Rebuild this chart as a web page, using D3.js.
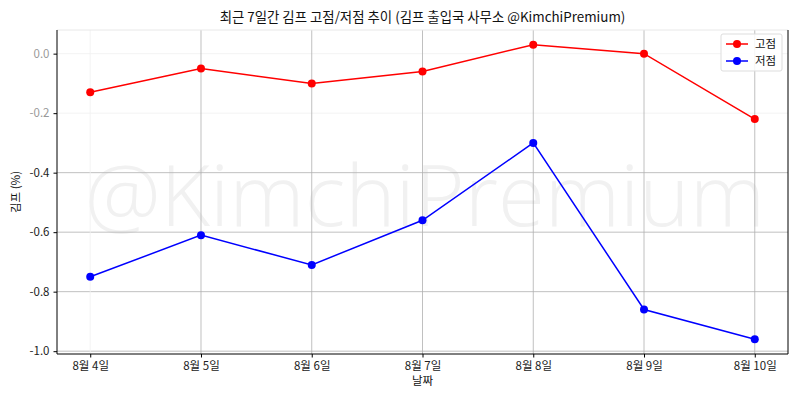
<!DOCTYPE html>
<html><head><meta charset="utf-8">
<script src="https://cdn.jsdelivr.net/npm/d3@7"></script>
<style>body{margin:0;background:#fff}svg{display:block}text{font-family:"Noto Sans CJK KR","Noto Sans",sans-serif}</style>
</head><body><svg id="c" width="800" height="400"></svg>
<script>
const dates = ["8월 4일","8월 5일","8월 6일","8월 7일","8월 8일","8월 9일","8월 10일"];
const highs = [-0.13,-0.05,-0.10,-0.06,0.03,0.00,-0.22];
const lows  = [-0.75,-0.61,-0.71,-0.56,-0.30,-0.86,-0.96];
const yTicks = [0.0,-0.2,-0.4,-0.6,-0.8,-1.0];
const seriesNames = ["고점","저점"];
const colors = ["#ff0000","#0000ff"];

const svg = d3.select("#c");
const L=57,R=788,T=30,B=354;
const x = d3.scaleLinear().domain([-0.3,6.3]).range([L,R]);
const y = d3.scaleLinear().domain([-1.0095,0.0795]).range([B,T]);

// watermark
svg.append("text").attr("x",425).attr("y",226).attr("text-anchor","middle")
  .attr("font-size",84).attr("font-weight",300).attr("fill","#f1f1f1")
  .attr("textLength",680).attr("lengthAdjust","spacingAndGlyphs")
  .style("font-family","'Open Sans','Noto Sans',sans-serif").text("@KimchiPremium");

// grid
const faintY = v => v>-0.3;
svg.append("g").selectAll("line").data(yTicks).join("line")
  .attr("x1",L).attr("x2",R).attr("y1",d=>y(d)).attr("y2",d=>y(d))
  .attr("stroke",d=>faintY(d)?"#f0f0f0":"#b0b0b0").attr("stroke-width",0.8);
svg.append("g").selectAll("line").data(dates).join("line")
  .attr("x1",(d,i)=>x(i)).attr("x2",(d,i)=>x(i)).attr("y1",T).attr("y2",B)
  .attr("stroke",(d,i)=>i===0?"#f0f0f0":"#b0b0b0").attr("stroke-width",0.8);

// axes
const xAxis = d3.axisBottom(x).tickValues(d3.range(dates.length)).tickFormat(i=>dates[i]).tickSize(3.5).tickPadding(4);
const gx = svg.append("g").attr("transform",`translate(0,${B})`).call(xAxis);
gx.select(".domain").remove();
gx.selectAll("text").attr("font-size",11.5).attr("fill","#222");
const yAxis = d3.axisLeft(y).tickValues(yTicks).tickFormat(d=>d3.format(".1f")(d).replace("−","-")).tickSize(3.5).tickPadding(4);
const gy = svg.append("g").attr("transform",`translate(${L},0)`).call(yAxis);
gy.select(".domain").remove();
gy.selectAll("text").attr("font-size",11.5).attr("fill",d=>faintY(d)?"#999":"#222");

// spines
svg.append("line").attr("x1",L).attr("x2",R).attr("y1",T).attr("y2",T).attr("stroke","#e8e8e8");
svg.append("line").attr("x1",L).attr("x2",L).attr("y1",T).attr("y2",B).attr("stroke","#000");
svg.append("line").attr("x1",R).attr("x2",R).attr("y1",T).attr("y2",B).attr("stroke","#000");
svg.append("line").attr("x1",L).attr("x2",R).attr("y1",B).attr("y2",B).attr("stroke","#000");

// series
const line = d3.line().x((d,i)=>x(i)).y(d=>y(d));
[highs,lows].forEach((s,k)=>{
  svg.append("path").datum(s).attr("d",line).attr("fill","none").attr("stroke",colors[k]).attr("stroke-width",1.5);
  svg.append("g").selectAll("circle").data(s).join("circle")
    .attr("cx",(d,i)=>x(i)).attr("cy",d=>y(d)).attr("r",4).attr("fill",colors[k]);
});

// title & labels
svg.append("text").attr("x",(L+R)/2).attr("y",22).attr("text-anchor","middle").attr("font-size",13.4).attr("fill","#111")
  .text("최근 7일간 김프 고점/저점 추이 (김프 출입국 사무소 @KimchiPremium)");
svg.append("text").attr("x",(L+R)/2).attr("y",385).attr("text-anchor","middle").attr("font-size",11.5).attr("fill","#111").text("날짜");
svg.append("text").attr("transform","translate(20,192) rotate(-90)").attr("text-anchor","middle").attr("font-size",11.5).attr("fill","#111").text("김프 (%)");

// legend
const lg = svg.append("g").attr("transform","translate(721,34)");
lg.append("rect").attr("width",61).attr("height",37).attr("rx",2).attr("fill","#fff").attr("fill-opacity",0.85).attr("stroke","#ddd");
seriesNames.forEach((n,k)=>{
  const yy = 10+k*17;
  lg.append("line").attr("x1",5).attr("x2",27).attr("y1",yy).attr("y2",yy).attr("stroke",colors[k]).attr("stroke-width",1.5);
  lg.append("circle").attr("cx",16).attr("cy",yy).attr("r",4).attr("fill",colors[k]);
  lg.append("text").attr("x",34).attr("y",yy+4).attr("font-size",11.5).attr("fill","#111").text(n);
});
</script></body></html>
